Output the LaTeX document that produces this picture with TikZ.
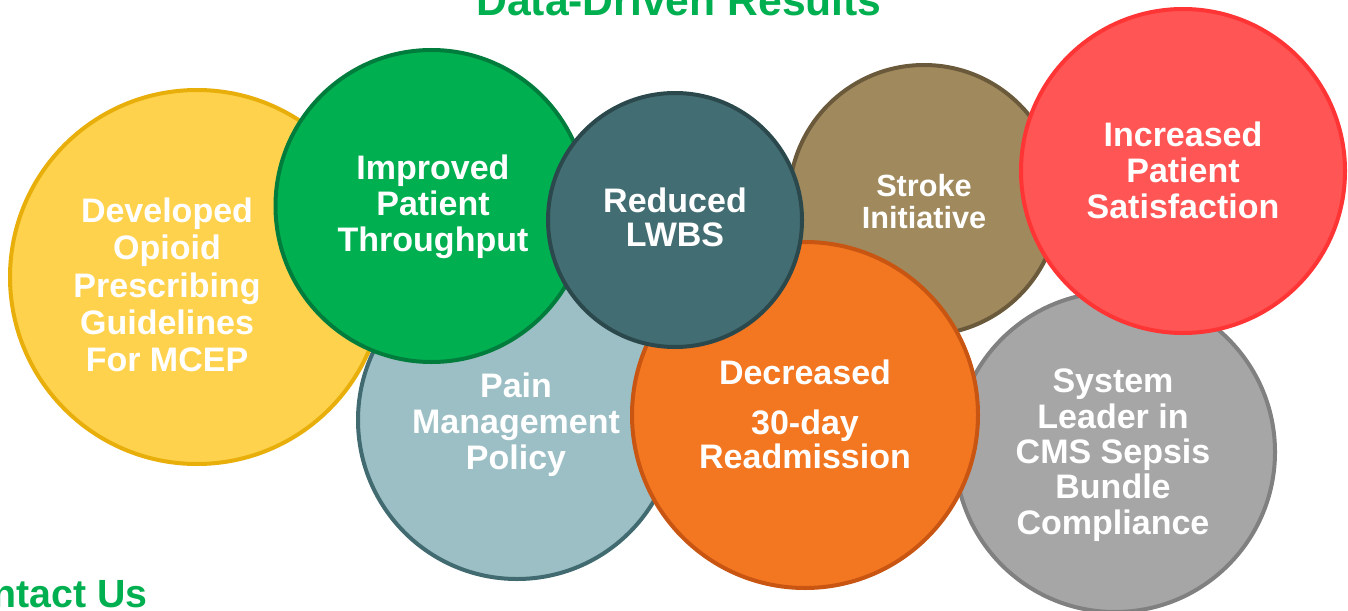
\documentclass[tikz,border=0pt]{standalone}
\usepackage{fontspec}
\setmainfont{Liberation Sans}
\usepackage{tikz}

\definecolor{ttlgreen}{HTML}{00B050}
\definecolor{ylwfill}{HTML}{FFD24D}
\definecolor{ylwline}{HTML}{E8AE0A}
\definecolor{grnfill}{HTML}{00B050}
\definecolor{grnline}{HTML}{007D3C}
\definecolor{painfill}{HTML}{9BBFC5}
\definecolor{painline}{HTML}{416B70}
\definecolor{lwbsfill}{HTML}{426D72}
\definecolor{lwbsline}{HTML}{2B494C}
\definecolor{strkfill}{HTML}{A0895C}
\definecolor{strkline}{HTML}{6A5A3B}
\definecolor{orgfill}{HTML}{F37621}
\definecolor{orgline}{HTML}{C95512}
\definecolor{gryfill}{HTML}{A6A6A6}
\definecolor{gryline}{HTML}{808080}
\definecolor{redfill}{HTML}{FF5555}
\definecolor{redline}{HTML}{FF3535}

\tikzset{
  bubble/.style n args={3}{circle, inner sep=0pt, line width=3pt,
    draw=#2, fill=#3, minimum size=#1*1.5pt},
  bubtext/.style={text=white, align=center, font=\bfseries\fontsize{25.5}{27}\selectfont}
}

\begin{document}
\begin{tikzpicture}[x=0.75pt, y=-0.75pt]

   \clip (0,0) rectangle (1348,610);
   \fill[white] (0,0) rectangle (1348,610);

   % headings
   \node[anchor=base, text=ttlgreen, font=\bfseries\fontsize{32}{36}\selectfont, inner sep=0pt] (title) at (679,16) {Data-Driven Results};
   \node[anchor=base east, text=ttlgreen, font=\bfseries\fontsize{29.5}{34}\selectfont, inner sep=0pt] (contact) at (148,607) {Contact Us};

   % circles, back to front
   \node[bubble={135}{strkline}{strkfill}] (stroke) at (924,200) {};
   \node[bubble={160}{gryline}{gryfill}] (sepsis) at (1115,452) {};
   \node[bubble={162}{redline}{redfill}] (satisf) at (1183,171) {};
   \node[bubble={159}{painline}{painfill}] (pain) at (517,420) {};
   \node[bubble={187}{ylwline}{ylwfill}] (opioid) at (197,277) {};
   \node[bubble={156}{grnline}{grnfill}] (thruput) at (431.5,206) {};
   \node[bubble={173}{orgline}{orgfill}] (readmit) at (805,415) {};
   \node[bubble={127}{lwbsline}{lwbsfill}] (lwbs) at (675,220) {};

   % labels
   \node[bubtext, font=\bfseries\fontsize{25.5}{28}\selectfont] (opioidtxt) at (167,285) {Developed\\Opioid\\Prescribing\\Guidelines\\For MCEP};
   \node[bubtext] (thruputtxt) at (433,206.5) {Improved\\Patient\\Throughput};
   \node[bubtext, font=\bfseries\fontsize{25.5}{25.5}\selectfont] (lwbstxt) at (675,217) {Reduced\\LWBS};
   \node[bubtext, font=\bfseries\fontsize{23}{24}\selectfont] (stroketxt) at (924,202) {Stroke\\Initiative};
   \node[bubtext] (satisftxt) at (1183,170) {Increased\\Patient\\Satisfaction};
   \node[bubtext] (paintxt) at (516,425) {Pain\\Management\\Policy};
   \node[bubtext, font=\bfseries\fontsize{25.5}{25.5}\selectfont] (readmittxt) at (805,414) {Decreased\\[12pt]30-day\\Readmission};
   \node[bubtext, font=\bfseries\fontsize{25.5}{26.5}\selectfont] (sepsistxt) at (1113,455) {System\\Leader in\\CMS Sepsis\\Bundle\\Compliance};

\end{tikzpicture}
\end{document}
